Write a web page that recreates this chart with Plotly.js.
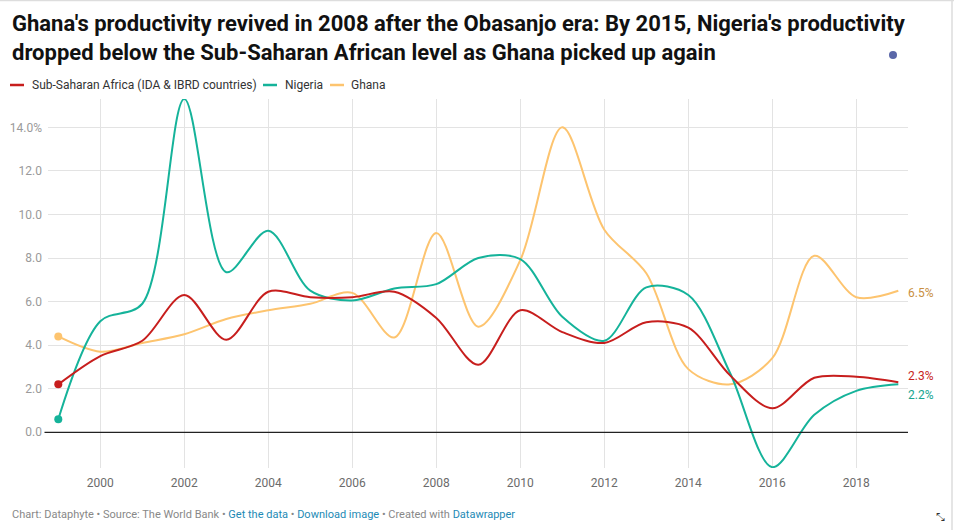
<!DOCTYPE html>
<html>
<head>
<meta charset="utf-8">
<script src="https://cdn.plot.ly/plotly-3.0.1.min.js"></script>
<style>
html,body{margin:0;padding:0;background:#fff;}
#chart{width:954px;height:530px;}
</style>
</head>
<body>
<div id="chart"></div>
<script>
const years = [1999,2000,2001,2002,2003,2004,2005,2006,2007,2008,2009,2010,2011,2012,2013,2014,2015,2016,2017,2018,2019];
const ssa     = [2.2,3.5,4.2,6.3,4.25,6.45,6.2,6.2,6.45,5.25,3.1,5.6,4.6,4.1,5.05,4.8,2.6,1.1,2.5,2.55,2.3];
const nigeria = [0.6,5.1,5.9,15.3,7.35,9.25,6.5,6.05,6.6,6.8,8.0,7.95,5.3,4.2,6.65,6.3,2.7,-1.6,0.8,1.9,2.2];
const ghana   = [4.4,3.7,4.1,4.5,5.2,5.6,5.9,6.4,4.35,9.15,4.85,7.9,14.0,9.3,7.3,2.9,2.2,3.4,8.1,6.2,6.5];
const seriesNames = ['Sub-Saharan Africa (IDA & IBRD countries)','Nigeria','Ghana'];
const yTickVals = [0,2,4,6,8,10,12,14];
const yTickText = ['0.0','2.0','4.0','6.0','8.0','10.0','12.0','14.0%'];
const xTickVals = [2000,2002,2004,2006,2008,2010,2012,2014,2016,2018];

const colors = ['#c71e1d','#15b39a','#fdc46f'];
const labelColors = ['#c71e1d','#18a58f','#c98f3f'];
const data = [ssa, nigeria, ghana];

const FONT = 'Roboto, "Noto Sans", sans-serif';
const traces = [];
data.forEach((vals, i) => {
  traces.push({
    x: years, y: vals, type: 'scatter', mode: 'lines', name: seriesNames[i],
    line: {color: colors[i], width: 2, shape: 'spline', smoothing: 0.9},
    hoverinfo: 'skip', showlegend: false, cliponaxis: false
  });
  traces.push({
    x: [years[0]], y: [vals[0]], type: 'scatter', mode: 'markers',
    marker: {color: colors[i], size: 8}, showlegend: false, hoverinfo: 'skip', cliponaxis: false
  });
});
const ordered = [traces[4],traces[5],traces[2],traces[3],traces[0],traces[1]];

const L = 48, R = 908, T = 99, B = 468;
const W = R - L, H = B - T;
const px = x => (x - L) / W;
const py = y => (B - y) / H;

const shapes = [
  {type:'line', xref:'paper', yref:'y', x0:px(44.5), x1:1, y0:0, y1:0, line:{color:'#222', width:1.2}},
  {type:'circle', xref:'paper', yref:'paper', x0:px(889), x1:px(897), y0:py(59), y1:py(51), fillcolor:'#5a67a8', line:{width:0}},
  {type:'line', xref:'paper', yref:'paper', x0:px(952), x1:px(952), y0:py(0), y1:py(530), line:{color:'#dddddd', width:1.5}},
  {type:'line', xref:'paper', yref:'paper', x0:px(0), x1:px(954), y0:py(0.5), y1:py(0.5), line:{color:'#dddddd', width:1.5}}
];
const legendItems = [[10,30],[263,283],[330,349]];
const annotations = [];
legendItems.forEach((li, i) => {
  shapes.push({type:'line', xref:'paper', yref:'paper', x0:px(li[0]), x1:px(li[0]+14), y0:py(85), y1:py(85), line:{color:colors[i], width:2.5}});
  annotations.push({xref:'paper', yref:'paper', x:px(li[1]), y:py(85), xanchor:'left', yanchor:'middle',
    text: seriesNames[i].replace('&','&amp;'), showarrow:false, font:{family:FONT, size:12, color:'#333'}});
});
const endShift = [6, -11, -2];
data.forEach((vals, i) => {
  annotations.push({xref:'x', yref:'y', x:years[years.length-1], y:vals[vals.length-1], xanchor:'left', yanchor:'middle',
    xshift:8, yshift:endShift[i], text: vals[vals.length-1].toFixed(1) + '%', showarrow:false,
    font:{family:FONT, size:12, color:labelColors[i]}});
});
const blue = '#1d8ab5', grey = '#888';
annotations.push({xref:'paper', yref:'paper', x:px(10), y:py(514), xanchor:'left', yanchor:'middle', showarrow:false,
  font:{family:FONT, size:11, color:grey},
  text: 'Chart: Dataphyte • Source: The World Bank • <span style="color:'+blue+'">Get the data</span> • <span style="color:'+blue+'">Download image</span> • Created with <span style="color:'+blue+'">Datawrapper</span>'});
annotations.push({xref:'paper', yref:'paper', x:px(940), y:py(517), xanchor:'center', yanchor:'middle', showarrow:false,
  font:{family:'DejaVu Sans', size:11, color:'#333'}, text:'⤡'});
annotations.push({xref:'paper', yref:'paper', x:px(10), y:py(38), xanchor:'left', yanchor:'middle', align:'left', showarrow:false,
  font:{family:FONT, size:22, color:'#111'},
  text: "<b>Ghana's productivity revived in 2008 after the Obasanjo era: By 2015, Nigeria's productivity<br>dropped below the Sub-Saharan African level as Ghana picked up again</b>"});

const layout = {
  width: 954, height: 530,
  margin: {l: L, r: 954 - R, t: T, b: 530 - B, pad: 0},
  paper_bgcolor: '#fff', plot_bgcolor: '#fff',
  font: {family: FONT},
  xaxis: {
    range: [1998.755, 2019.231], tickvals: xTickVals, ticks: '', showgrid: true, gridcolor: '#e3e3e3', gridwidth: 1,
    zeroline: false, showline: false, tickfont: {family: FONT, size: 12, color: '#6b6b6b'}, ticklabelstandoff: 6, fixedrange: true
  },
  yaxis: {
    range: [-1.64, 15.3], tickvals: yTickVals, ticktext: yTickText, ticks: '', showgrid: true, gridcolor: '#e3e3e3', gridwidth: 1,
    zeroline: false, showline: false, tickfont: {family: FONT, size: 12, color: '#9a9a9a'}, ticklabelstandoff: 5, fixedrange: true
  },
  shapes: shapes,
  annotations: annotations,
  showlegend: false
};
Plotly.newPlot('chart', ordered, layout, {staticPlot: true});
</script>
</body>
</html>
